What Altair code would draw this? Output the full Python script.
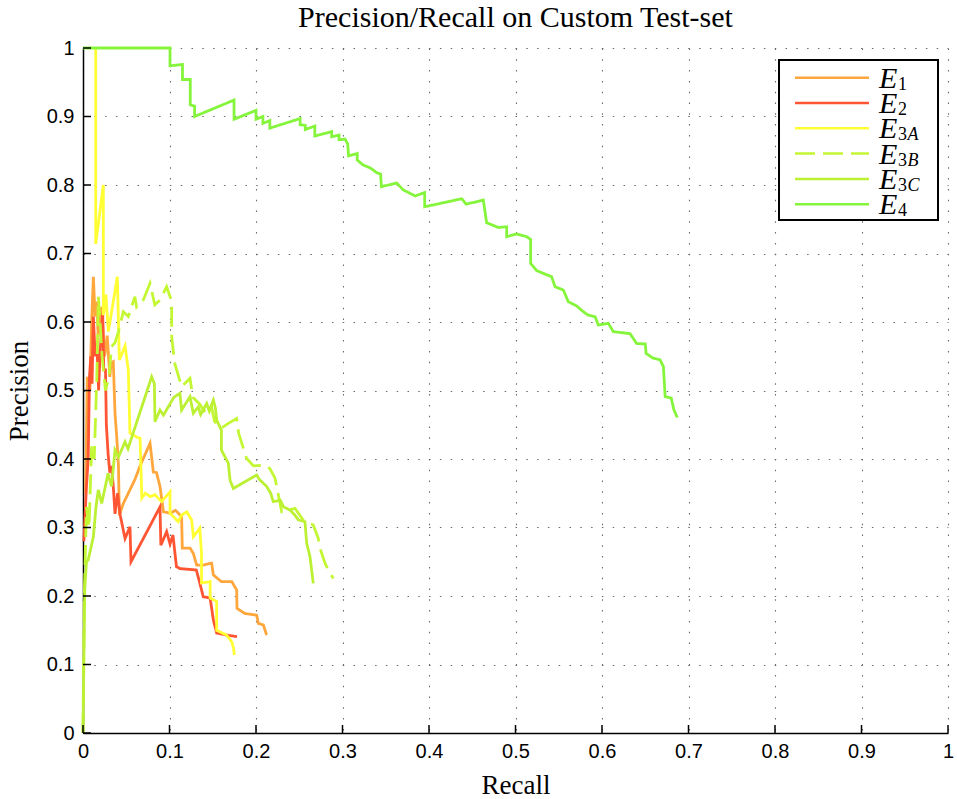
import altair as alt
import pandas as pd

# ---------------- text ----------------
TITLE = "Precision/Recall on Custom Test-set"
X_TITLE = "Recall"
Y_TITLE = "Precision"

# ---------------- series ----------------
SERIES = ["E1", "E2", "E3A", "E3B", "E3C", "E4"]
COLORS = ["#FFA63C", "#FF5533", "#FFFF33", "#C4F733", "#BBF033", "#85F53C"]
DASHES = [[1, 0], [1, 0], [1, 0], [20, 8], [1, 0], [1, 0]]
LEG_DIGIT = ["1", "2", "3", "3", "3", "4"]
LEG_LETTER = ["", "", "A", "B", "C", ""]

TICKS = [0, 0.1, 0.2, 0.3, 0.4, 0.5, 0.6, 0.7, 0.8, 0.9, 1]

# (recall, precision) points
E1 = [(0.003, 0.35), (0.005, 0.52), (0.008, 0.50), (0.010, 0.60), (0.012, 0.666),
      (0.0139, 0.608), (0.016, 0.63), (0.0175, 0.58), (0.019, 0.60), (0.0216, 0.622),
      (0.025, 0.55), (0.028, 0.58), (0.031, 0.52), (0.0324, 0.54), (0.035, 0.542),
      (0.037, 0.4667), (0.039, 0.4325), (0.041, 0.39), (0.042, 0.318), (0.0466, 0.335),
      (0.060, 0.37), (0.066, 0.39), (0.0775, 0.423), (0.0813, 0.381), (0.085, 0.38),
      (0.089, 0.36), (0.093, 0.323), (0.1006, 0.3207), (0.107, 0.325), (0.114, 0.316),
      (0.1148, 0.27), (0.1237, 0.27), (0.1276, 0.262), (0.1314, 0.245), (0.139, 0.245),
      (0.1487, 0.248), (0.1507, 0.2307), (0.160, 0.221), (0.172, 0.221), (0.1777, 0.2088),
      (0.178, 0.182), (0.187, 0.1745), (0.2008, 0.172), (0.2027, 0.16), (0.2085, 0.1577),
      (0.2123, 0.143)]

E2 = [(0.001, 0.28), (0.004, 0.36), (0.006, 0.40), (0.0075, 0.52), (0.009, 0.55),
      (0.0105, 0.51), (0.012, 0.608), (0.014, 0.55), (0.016, 0.57), (0.018, 0.50),
      (0.020, 0.56), (0.0228, 0.6126), (0.024, 0.53), (0.026, 0.53), (0.027, 0.45),
      (0.029, 0.408), (0.031, 0.38), (0.033, 0.39), (0.035, 0.36), (0.037, 0.32),
      (0.040, 0.35), (0.043, 0.318), (0.0486, 0.284), (0.0543, 0.301), (0.0555, 0.25),
      (0.089, 0.33), (0.090, 0.274), (0.0967, 0.294), (0.1006, 0.276), (0.104, 0.289),
      (0.108, 0.243), (0.112, 0.24), (0.131, 0.238), (0.135, 0.219), (0.139, 0.199),
      (0.147, 0.197), (0.1507, 0.165), (0.1545, 0.146), (0.166, 0.143), (0.178, 0.1406)]

E3A = [(0.0147, 1.0), (0.0147, 0.714), (0.0235, 0.80), (0.0235, 0.61), (0.0265, 0.64),
       (0.0293, 0.586), (0.0397, 0.666), (0.042, 0.5445), (0.0486, 0.565), (0.0524, 0.53),
       (0.0543, 0.438), (0.062, 0.432), (0.066, 0.43), (0.068, 0.343), (0.072, 0.35),
       (0.078, 0.345), (0.083, 0.348), (0.089, 0.34), (0.091, 0.338), (0.1006, 0.352),
       (0.1006, 0.321), (0.110, 0.3085), (0.114, 0.318), (0.120, 0.323), (0.1256, 0.311),
       (0.1276, 0.2866), (0.135, 0.299), (0.137, 0.263), (0.137, 0.219), (0.147, 0.221),
       (0.147, 0.197), (0.1545, 0.192), (0.1545, 0.15), (0.166, 0.143), (0.172, 0.133),
       (0.174, 0.124), (0.175, 0.114)]

E3B = [(0.0, 0.0), (0.0015, 0.20), (0.004, 0.33), (0.007, 0.30), (0.010, 0.42),
       (0.013, 0.40), (0.016, 0.52), (0.0177, 0.637), (0.0197, 0.603), (0.022, 0.55),
       (0.026, 0.50), (0.030, 0.52), (0.033, 0.564), (0.037, 0.57), (0.041, 0.586),
       (0.0466, 0.615), (0.0524, 0.608), (0.060, 0.637), (0.062, 0.622), (0.0697, 0.632),
       (0.0775, 0.6565), (0.083, 0.625), (0.089, 0.632), (0.0967, 0.6515), (0.1025, 0.63),
       (0.1025, 0.5785), (0.106, 0.54), (0.114, 0.5055), (0.1237, 0.5178), (0.127, 0.49),
       (0.135, 0.48), (0.140, 0.47), (0.148, 0.48), (0.152, 0.455), (0.160, 0.445),
       (0.168, 0.452), (0.1777, 0.459), (0.180, 0.4375), (0.189, 0.401), (0.197, 0.39),
       (0.210, 0.391), (0.216, 0.386), (0.222, 0.372), (0.2297, 0.323), (0.245, 0.328),
       (0.255, 0.31), (0.2662, 0.3036), (0.272, 0.284), (0.274, 0.2696), (0.280, 0.2472),
       (0.2836, 0.238), (0.2894, 0.2255)]

E3C = [(0.0, 0.0), (0.002, 0.21), (0.004, 0.25), (0.006, 0.2526), (0.012, 0.2866),
       (0.015, 0.33), (0.0177, 0.355), (0.0216, 0.335), (0.029, 0.379), (0.033, 0.36),
       (0.037, 0.413), (0.041, 0.403), (0.0486, 0.425), (0.052, 0.415), (0.0794, 0.52),
       (0.0825, 0.51), (0.0832, 0.4545), (0.089, 0.4715), (0.093, 0.464), (0.105, 0.49),
       (0.112, 0.496), (0.114, 0.4715), (0.1237, 0.491), (0.1275, 0.4667), (0.1333, 0.476),
       (0.136, 0.465), (0.143, 0.481), (0.146, 0.47), (0.1507, 0.486), (0.153, 0.475),
       (0.1545, 0.457), (0.160, 0.442), (0.160, 0.413), (0.168, 0.394), (0.170, 0.369),
       (0.1738, 0.357), (0.2008, 0.3766), (0.204, 0.37), (0.2123, 0.36), (0.217, 0.35),
       (0.220, 0.3377), (0.228, 0.34), (0.232, 0.33), (0.2393, 0.3255), (0.245, 0.318),
       (0.249, 0.311), (0.2566, 0.3085), (0.2586, 0.277), (0.2624, 0.2574), (0.2662, 0.2185)]

E4 = [(0.0, 1.0), (0.1006, 1.0), (0.1006, 0.974), (0.115, 0.976), (0.115, 0.954),
      (0.124, 0.954), (0.124, 0.917), (0.129, 0.915), (0.129, 0.900), (0.1746, 0.924),
      (0.1746, 0.896), (0.200, 0.909), (0.200, 0.896), (0.208, 0.900), (0.208, 0.890),
      (0.216, 0.894), (0.216, 0.883), (0.251, 0.897), (0.251, 0.888), (0.257, 0.887),
      (0.257, 0.881), (0.268, 0.886), (0.268, 0.8715), (0.2875, 0.878), (0.2875, 0.8705),
      (0.296, 0.873), (0.296, 0.866), (0.303, 0.867), (0.306, 0.860), (0.307, 0.8423),
      (0.317, 0.846), (0.317, 0.8365), (0.324, 0.829), (0.332, 0.825), (0.3395, 0.818),
      (0.344, 0.816), (0.345, 0.7975), (0.3626, 0.803), (0.370, 0.793), (0.384, 0.784),
      (0.395, 0.789), (0.395, 0.7683), (0.4127, 0.773), (0.4378, 0.780), (0.443, 0.772),
      (0.4628, 0.778), (0.4666, 0.745), (0.480, 0.738), (0.4898, 0.739), (0.4898, 0.7245),
      (0.5013, 0.7285), (0.513, 0.7245), (0.5175, 0.7205), (0.5175, 0.6856), (0.5245, 0.675),
      (0.5418, 0.666), (0.5457, 0.6515), (0.5553, 0.6467), (0.561, 0.6297), (0.5707, 0.6234),
      (0.5784, 0.615), (0.584, 0.610), (0.592, 0.6078), (0.5957, 0.5956), (0.6073, 0.598),
      (0.613, 0.586), (0.6324, 0.583), (0.640, 0.5686), (0.650, 0.568), (0.651, 0.554),
      (0.6593, 0.547), (0.667, 0.545), (0.671, 0.535), (0.673, 0.491), (0.680, 0.489),
      (0.6832, 0.4715), (0.687, 0.4606)]

ALL = {"E1": E1, "E2": E2, "E3A": E3A, "E3B": E3B, "E3C": E3C, "E4": E4}

rows = []
for name in SERIES:
    for i, (r, p) in enumerate(ALL[name]):
        rows.append({"series": name, "recall": r, "precision": p, "idx": i})
df = pd.DataFrame(rows)

W, H = 865, 685
SERIF = "Liberation Serif"
SANS = "Liberation Sans"

x_scale = alt.Scale(domain=[0, 1], nice=False, zero=False)
y_scale = alt.Scale(domain=[0, 1], nice=False, zero=False)

common_axis = dict(
    values=TICKS, format="~g", ticks=False, tickSize=0,
    labelFont=SANS, labelFontSize=20, labelColor="black",
    domainColor="black", domainWidth=1.5,
    grid=True, gridColor="#6a6a6a", gridDash=[1.5, 9.3], gridWidth=1.1,
    titleFont=SERIF, titleFontSize=27, titleFontWeight="normal", titleColor="black",
    titleBaseline="alphabetic",
)
X_AXIS = alt.Axis(title=X_TITLE, labelFlush=False, labelPadding=8, titleY=60, **common_axis)
Y_AXIS = alt.Axis(title=Y_TITLE, labelPadding=9, titleX=-56, **common_axis)

lines = alt.Chart(df).mark_line(strokeWidth=2.8).encode(
    x=alt.X("recall:Q", scale=x_scale, axis=X_AXIS),
    y=alt.Y("precision:Q", scale=y_scale, axis=Y_AXIS),
    color=alt.Color("series:N", scale=alt.Scale(domain=SERIES, range=COLORS), legend=None),
    strokeDash=alt.StrokeDash("series:N", scale=alt.Scale(domain=SERIES, range=DASHES), legend=None),
    order=alt.Order("idx:Q"),
)

tick_df = pd.DataFrame({"recall": TICKS, "precision": TICKS})
xticks = alt.Chart(tick_df).mark_rule(color="black", strokeWidth=1.5).encode(
    x=alt.X("recall:Q", scale=x_scale, axis=X_AXIS),
    y=alt.value(H), y2=alt.value(H - 8),
)
yticks = alt.Chart(tick_df).mark_rule(color="black", strokeWidth=1.5).encode(
    y=alt.Y("precision:Q", scale=y_scale, axis=Y_AXIS),
    x=alt.value(0), x2=alt.value(8),
)

one = pd.DataFrame({"k": [0]})
title_mark = alt.Chart(one).mark_text(text=TITLE, font=SERIF, fontSize=30, align="center",
                                      baseline="alphabetic", color="black").encode(
    x=alt.value(W / 2), y=alt.value(-21)
)

box = alt.Chart(one).mark_rect(fill="white", stroke="black", strokeWidth=2).encode(
    x=alt.value(696), x2=alt.value(855), y=alt.value(12), y2=alt.value(172)
)

legend_layers = []
ROW0, ROW_STEP = 29.7, 25.3
for i, name in enumerate(SERIES):
    ry = ROW0 + i * ROW_STEP
    legend_layers.append(
        alt.Chart(one).mark_rule(color=COLORS[i], strokeWidth=2.5, strokeDash=DASHES[i]).encode(
            x=alt.value(712), x2=alt.value(786), y=alt.value(ry)
        )
    )
    legend_layers.append(
        alt.Chart(one).mark_text(text="E", font=SERIF, fontStyle="italic", fontSize=30,
                                 align="left", baseline="alphabetic", color="black").encode(
            x=alt.value(796), y=alt.value(ry + 10)
        )
    )
    legend_layers.append(
        alt.Chart(one).mark_text(text=LEG_DIGIT[i], font=SERIF, fontSize=18,
                                 align="left", baseline="alphabetic", color="black").encode(
            x=alt.value(815), y=alt.value(ry + 12)
        )
    )
    if LEG_LETTER[i]:
        legend_layers.append(
            alt.Chart(one).mark_text(text=LEG_LETTER[i], font=SERIF, fontStyle="italic", fontSize=18,
                                     align="left", baseline="alphabetic", color="black").encode(
                x=alt.value(824.5), y=alt.value(ry + 12)
            )
        )

chart = alt.layer(lines, xticks, yticks, title_mark, box, *legend_layers).properties(
    width=W, height=H,
    padding={"left": 83, "top": 48, "right": 9, "bottom": 66},
    autosize=alt.AutoSizeParams(type="none"),
).configure_view(stroke=None)

chart.save("out.html", embed_options={"renderer": "svg", "actions": False})
